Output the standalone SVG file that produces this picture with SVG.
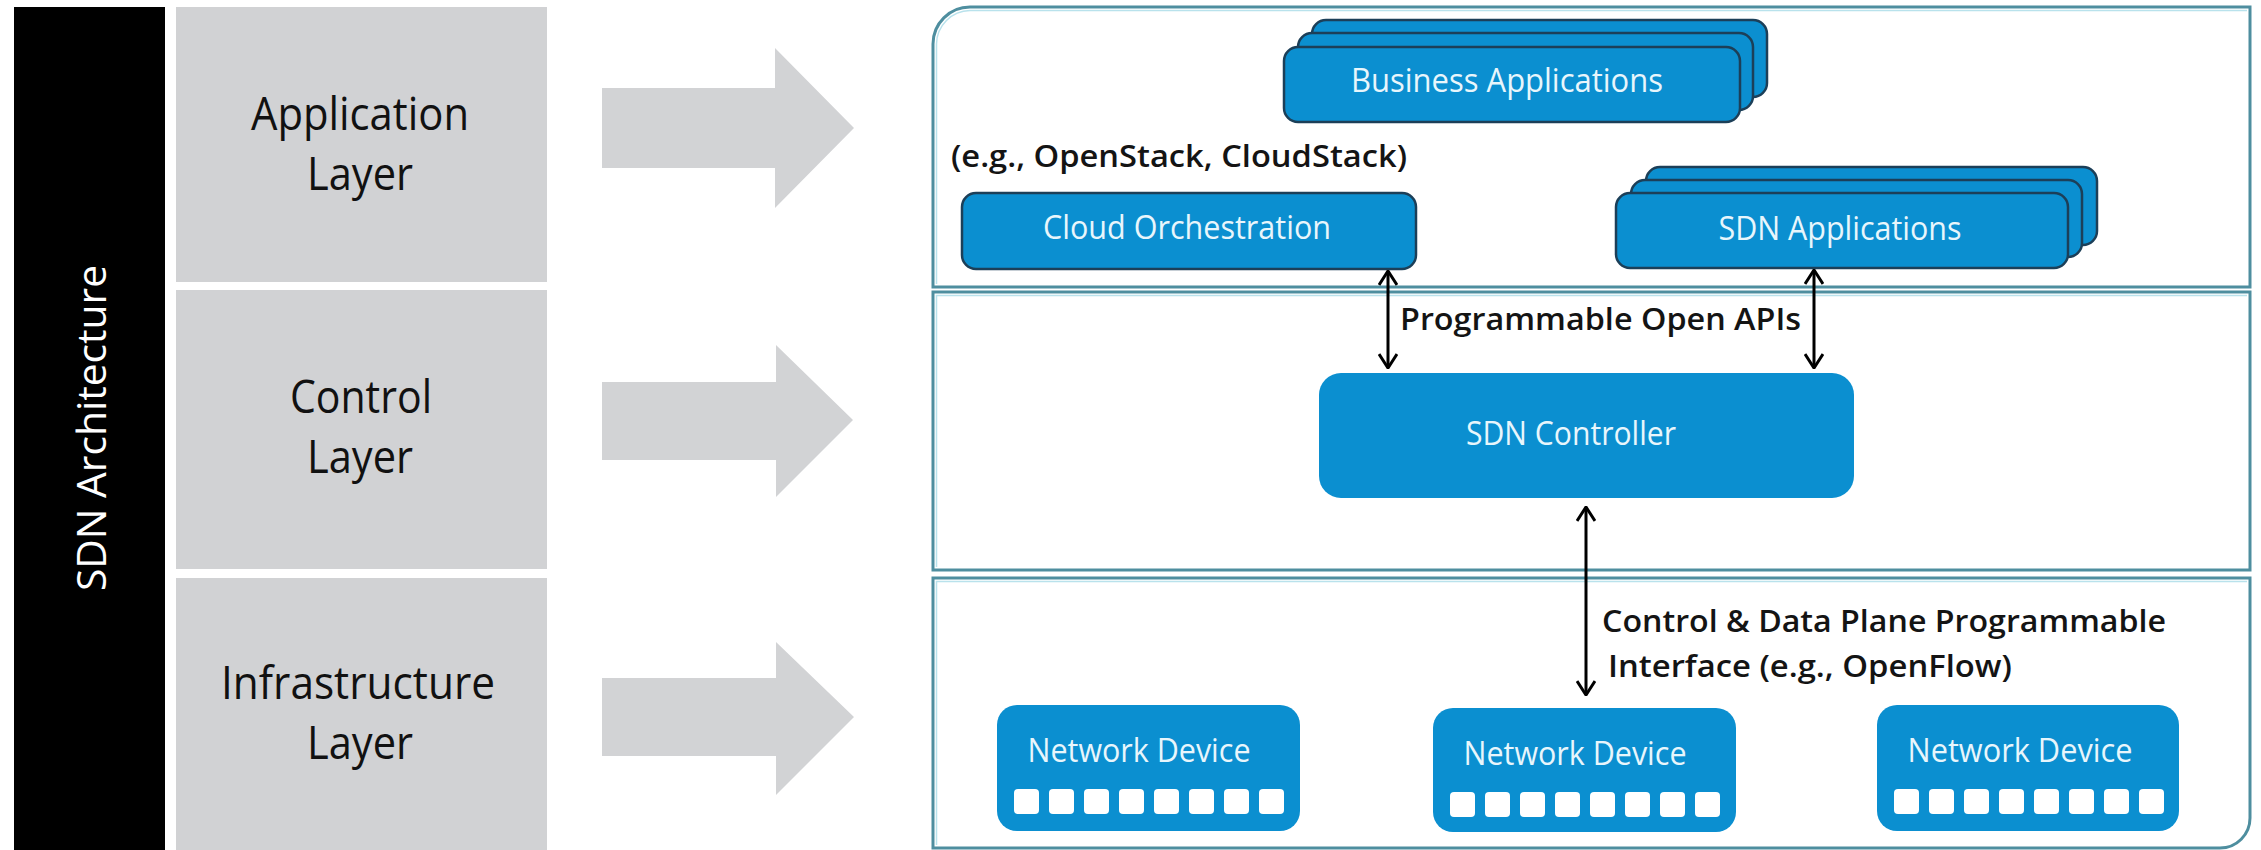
<svg xmlns="http://www.w3.org/2000/svg" width="2261" height="850" viewBox="0 0 2261 850">
<style>
.layer{fill:#d1d2d4}
.garrow{fill:#d2d3d5}
.lbl{font-family:"Open Sans","Liberation Sans",sans-serif;font-size:46px;fill:#111111;text-anchor:middle}
.sec{fill:#ffffff;stroke:#4e8e9f;stroke-width:3}
.sec2{fill:none;stroke:#b9e2ec;stroke-width:1.5}
.box{fill:#0b8fd0}
.sbox{fill:#0b8fd0;stroke:#1c3f58;stroke-width:2.5}
.bt{font-family:"Open Sans","Liberation Sans",sans-serif;font-size:32px;fill:#e8f6fc;text-anchor:middle}
.tt{font-family:"Open Sans","Liberation Sans",sans-serif;font-size:31px;font-weight:600;fill:#141414}
.port{fill:#ffffff}
.con{stroke:#000;stroke-width:3;fill:none}
</style>
<defs>
<marker id="ah" viewBox="0 0 16 20" refX="15" refY="10" markerWidth="16" markerHeight="20" markerUnits="userSpaceOnUse" orient="auto-start-reverse">
<path d="M1,1 L15,10 L1,19" fill="none" stroke="#000" stroke-width="3"/>
</marker>
</defs>

<g id="left-column">
<rect x="14" y="7" width="151" height="843" fill="#000"/>
<text transform="translate(106,428) rotate(-90)" font-family="Open Sans, Liberation Sans, sans-serif" font-size="41" fill="#fff" text-anchor="middle" textLength="326" lengthAdjust="spacingAndGlyphs">SDN Architecture</text>
</g>

<g id="application-layer-label">
<rect class="layer" x="176" y="7" width="371" height="275"/>
<text class="lbl" x="360" y="130" textLength="218" lengthAdjust="spacingAndGlyphs">Application</text>
<text class="lbl" x="360" y="190" textLength="106" lengthAdjust="spacingAndGlyphs">Layer</text>
</g>
<g id="control-layer-label">
<rect class="layer" x="176" y="290" width="371" height="279"/>
<text class="lbl" x="361" y="413" textLength="142" lengthAdjust="spacingAndGlyphs">Control</text>
<text class="lbl" x="360" y="473" textLength="106" lengthAdjust="spacingAndGlyphs">Layer</text>
</g>
<g id="infrastructure-layer-label">
<rect class="layer" x="176" y="578" width="371" height="272"/>
<text class="lbl" x="358" y="699" textLength="274" lengthAdjust="spacingAndGlyphs">Infrastructure</text>
<text class="lbl" x="360" y="759" textLength="106" lengthAdjust="spacingAndGlyphs">Layer</text>
</g>

<g id="big-arrows">
<path class="garrow" d="M602,88 H775 V48 L854,128 L775,208 V168 H602 Z"/>
<path class="garrow" d="M602,382 H776 V345 L853,420 L776,497 V460 H602 Z"/>
<path class="garrow" d="M602,678 H776 V642 L854,717 L776,795 V756 H602 Z"/>
</g>

<g id="application-section">
<path class="sec" d="M933,287 V44 A37,37 0 0 1 970,7 H2250 V287 Z"/>
<path class="sec2" d="M936.5,284 V44 A34,34 0 0 1 970,10.5 H2247"/>
</g>
<g id="control-section">
<rect class="sec" x="933" y="292" width="1317" height="278"/>
<path class="sec2" d="M936.5,567 V295.5 H2247"/>
</g>
<g id="infrastructure-section">
<path class="sec" d="M933,578 H2250 V818 A30,30 0 0 1 2220,848 H933 Z"/>
<path class="sec2" d="M936.5,845 V581.5 H2247"/>
</g>

<g id="business-applications">
<rect class="sbox" x="1312" y="20" width="455" height="77" rx="14"/>
<rect class="sbox" x="1298" y="33" width="455" height="77" rx="14"/>
<rect class="sbox" x="1284" y="47" width="456" height="75" rx="14"/>
<text class="bt" x="1507" y="92" textLength="312" lengthAdjust="spacingAndGlyphs">Business Applications</text>
</g>

<g id="cloud-orchestration">
<text class="tt" x="951" y="167" textLength="456" lengthAdjust="spacingAndGlyphs">(e.g., OpenStack, CloudStack)</text>
<rect class="sbox" x="962" y="193" width="454" height="76" rx="14"/>
<text class="bt" x="1187" y="239" textLength="288" lengthAdjust="spacingAndGlyphs">Cloud Orchestration</text>
</g>

<g id="sdn-applications">
<rect class="sbox" x="1646" y="167" width="451" height="78" rx="14"/>
<rect class="sbox" x="1631" y="180" width="451" height="77" rx="14"/>
<rect class="sbox" x="1616" y="193" width="452" height="75" rx="14"/>
<text class="bt" x="1840" y="240" textLength="243" lengthAdjust="spacingAndGlyphs">SDN Applications</text>
</g>

<g id="sdn-controller">
<rect class="box" x="1319" y="373" width="535" height="125" rx="22"/>
<text class="bt" x="1571" y="445" textLength="210" lengthAdjust="spacingAndGlyphs">SDN Controller</text>
</g>

<g id="network-device-1">
<rect class="box" x="997" y="705" width="303" height="126" rx="20"/>
<text class="bt" x="1139" y="762" textLength="223" lengthAdjust="spacingAndGlyphs">Network Device</text>
<g class="port">
<rect x="1014" y="789" width="25" height="25" rx="4"/><rect x="1049" y="789" width="25" height="25" rx="4"/><rect x="1084" y="789" width="25" height="25" rx="4"/><rect x="1119" y="789" width="25" height="25" rx="4"/><rect x="1154" y="789" width="25" height="25" rx="4"/><rect x="1189" y="789" width="25" height="25" rx="4"/><rect x="1224" y="789" width="25" height="25" rx="4"/><rect x="1259" y="789" width="25" height="25" rx="4"/>
</g>
</g>

<g id="network-device-2">
<rect class="box" x="1433" y="708" width="303" height="124" rx="20"/>
<text class="bt" x="1575" y="765" textLength="223" lengthAdjust="spacingAndGlyphs">Network Device</text>
<g class="port">
<rect x="1450" y="792" width="25" height="25" rx="4"/><rect x="1485" y="792" width="25" height="25" rx="4"/><rect x="1520" y="792" width="25" height="25" rx="4"/><rect x="1555" y="792" width="25" height="25" rx="4"/><rect x="1590" y="792" width="25" height="25" rx="4"/><rect x="1625" y="792" width="25" height="25" rx="4"/><rect x="1660" y="792" width="25" height="25" rx="4"/><rect x="1695" y="792" width="25" height="25" rx="4"/>
</g>
</g>

<g id="network-device-3">
<rect class="box" x="1877" y="705" width="302" height="126" rx="20"/>
<text class="bt" x="2020" y="762" textLength="225" lengthAdjust="spacingAndGlyphs">Network Device</text>
<g class="port">
<rect x="1894" y="789" width="25" height="25" rx="4"/><rect x="1929" y="789" width="25" height="25" rx="4"/><rect x="1964" y="789" width="25" height="25" rx="4"/><rect x="1999" y="789" width="25" height="25" rx="4"/><rect x="2034" y="789" width="25" height="25" rx="4"/><rect x="2069" y="789" width="25" height="25" rx="4"/><rect x="2104" y="789" width="25" height="25" rx="4"/><rect x="2139" y="789" width="25" height="25" rx="4"/>
</g>
</g>

<g id="connectors">
<line class="con" x1="1388" y1="271" x2="1388" y2="368" marker-start="url(#ah)" marker-end="url(#ah)"/>
<line class="con" x1="1814" y1="270" x2="1814" y2="368" marker-start="url(#ah)" marker-end="url(#ah)"/>
<line class="con" x1="1586" y1="507" x2="1586" y2="695" marker-start="url(#ah)" marker-end="url(#ah)"/>
<text class="tt" x="1400" y="330" textLength="401" lengthAdjust="spacingAndGlyphs">Programmable  Open APIs</text>
<text class="tt" x="1602" y="632" textLength="564" lengthAdjust="spacingAndGlyphs">Control &amp; Data Plane Programmable</text>
<text class="tt" x="1608" y="677" textLength="404" lengthAdjust="spacingAndGlyphs">Interface (e.g., OpenFlow)</text>
</g>
</svg>
